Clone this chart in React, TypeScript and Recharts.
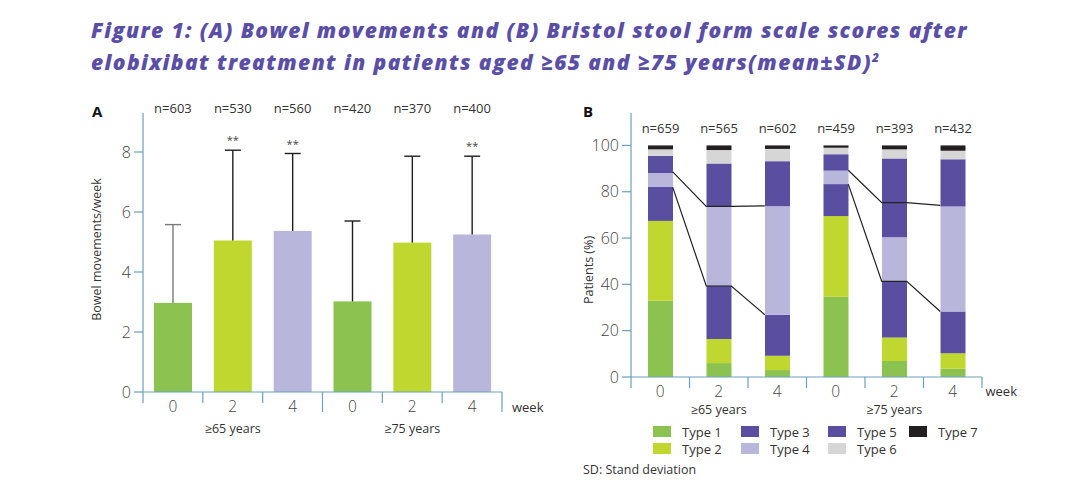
import React from 'react'
import { ComposedChart, Bar, Line, XAxis, YAxis, LabelList, Legend } from 'recharts'

// ---- data -------------------------------------------------------------
const weeks = [0, 2, 4, 0, 2, 4]
const groupNames = ['≥65 years', '≥75 years']

// (A) bowel movements / week, mean ± SD
const nA = [603, 530, 560, 420, 370, 400]
const meanA = [2.97, 5.05, 5.37, 3.02, 4.98, 5.25]
const sdA = [2.61, 3.01, 2.58, 2.68, 2.88, 2.61]
const sigA = ['', '**', '**', '', '', '**']

// (B) Bristol stool form scale, % of patients
const nB = [659, 565, 602, 459, 393, 432]
const type1 = [32.9, 6.0, 3.0, 34.7, 6.9, 3.6]
const type2 = [34.5, 10.4, 6.2, 34.8, 10.2, 6.7]
const type3 = [14.8, 23.1, 17.7, 13.8, 24.1, 18.0]
const type4 = [5.9, 34.2, 46.8, 5.8, 19.1, 45.3]
const type5 = [7.4, 18.5, 19.5, 7.1, 34.1, 20.4]
const type6 = [2.8, 5.8, 5.3, 2.8, 3.9, 3.7]
const type7 = [1.7, 2.0, 1.5, 1.0, 1.7, 2.3]
const upperLink = [88.6, 73.7, 73.9, 89.3, 75.3, 74.1]
const lowerLink = [81.9, 39.3, 26.9, 83.3, 41.3, 28.3]

const ticksA = [0, 2, 4, 6, 8]
const ticksB = [0, 20, 40, 60, 80, 100]

// ---- styles -----------------------------------------------------------
const AXIS = '#6b9fbe'
const TXT = '#333'
const FONT = '"Open Sans", Lato, sans-serif'
const weekFill: Record<number, string> = { 0: '#8cc24f', 2: '#c0d730', 4: '#b9b6dc' }
const typeColors = ['#8cc24f', '#c0d730', '#5a4ea1', '#b9b6dc', '#5a4ea1', '#d6d6d6', '#231f20']

// layout of panel B (needed to put link lines on bar edges)
const BAR_B = 25
const PLOT_W_B = 351

const dataA = weeks.map((w, i) => ({
  idx: i, week: w, n: nA[i], mean: meanA[i], sd: sdA[i], sig: sigA[i],
}))

const typeSeries = [type1, type2, type3, type4, type5, type6, type7]
const dataB = weeks.map((w, i) => {
  const row: Record<string, number> = { idx: i, week: w, n: nB[i] }
  typeSeries.forEach((s, t) => { row['t' + (t + 1)] = s[i] })
  return row
})

const edge = BAR_B / 2 / (PLOT_W_B / 6)
function linkPoints(vals: number[], start: number) {
  const pts: { x: number; v: number }[] = []
  for (let j = 0; j < 3; j++) {
    const i = start + j
    if (j > 0) pts.push({ x: i - edge, v: vals[i] })
    if (j < 2) pts.push({ x: i + edge, v: vals[i] })
  }
  return pts
}
const links = [
  linkPoints(upperLink, 0), linkPoints(lowerLink, 0),
  linkPoints(upperLink, 3), linkPoints(lowerLink, 3),
]

// ---- pieces -----------------------------------------------------------
type TickCfg = { band: number; shortLen: number; longLen: number; labelDy: number; groupDy: number; weekDx: number }

function WeekTick(props: any) {
  const { x, y, payload, cfg } = props
  const c = cfg as TickCfg
  const i = payload.index ?? payload.value
  const half = payload.offset || c.band / 2
  const left = x - half
  const right = x + half
  const sep = i === 3 ? c.longLen : c.shortLen
  return (
    <g>
      <line x1={left} x2={left} y1={y} y2={y + sep} stroke={AXIS} strokeWidth={1.2} />
      {i === 5 && <line x1={right} x2={right} y1={y} y2={y + c.longLen} stroke={AXIS} strokeWidth={1.2} />}
      <text x={x} y={y + c.labelDy} dy="0.35em" textAnchor="middle" fontSize={15.5} fill="#444" fontWeight={300}>
        {weeks[i]}
      </text>
      {(i === 1 || i === 4) && (
        <text x={x} y={y + c.groupDy} dy="0.35em" textAnchor="middle" fontSize={12.5} fill={TXT}>
          {groupNames[i === 1 ? 0 : 1]}
        </text>
      )}
      {i === 5 && (
        <text x={right + c.weekDx} y={y + c.labelDy} dy="0.35em" fontSize={13} fill={TXT}>week</text>
      )}
    </g>
  )
}

function MeanSdBar(props: any) {
  const { x, y, width, height, payload } = props
  const k = height / payload.mean
  const top = y - payload.sd * k
  const cx = x + width / 2
  const col = payload.idx === 0 ? '#7a7a7a' : '#1e1e1e'
  return (
    <g>
      <rect x={x} y={y} width={width} height={height} fill={weekFill[payload.week]} />
      <line x1={cx} x2={cx} y1={y} y2={top} stroke={col} strokeWidth={1.4} />
      <line x1={cx - 8} x2={cx + 8} y1={top} y2={top} stroke={col} strokeWidth={1.4} />
      {payload.sig && (
        <text x={cx} y={top - 6} textAnchor="middle" fontSize={11} fill="#444">{payload.sig}</text>
      )}
    </g>
  )
}

function yLabel(text: string, dx: number, dy: number) {
  return (p: any) => {
    const vb = p.viewBox
    const cx = vb.x + dx
    const cy = vb.y + vb.height / 2 + dy
    return (
      <text transform={`translate(${cx},${cy}) rotate(-90)`} textAnchor="middle" dy="0.35em" fontSize={12.5} fill={TXT}>
        {text}
      </text>
    )
  }
}

function TypeLegend({ payload }: any) {
  const items = (payload || []).filter((p: any) => p.type !== 'none')
  return (
    <div style={{
      display: 'grid', gridTemplateColumns: '88px 87px 81px 80px', gridTemplateRows: 'repeat(2, 17.3px)',
      gridAutoFlow: 'column', paddingLeft: 83, fontSize: 13, color: TXT,
    }}>
      {items.map((p: any) => (
        <div key={p.value} style={{ display: 'flex', alignItems: 'center' }}>
          <span style={{ width: 18, height: 11, background: p.color, marginRight: 11, display: 'inline-block' }} />
          <span>{p.value}</span>
        </div>
      ))}
    </div>
  )
}

const cfgA: TickCfg = { band: 59.8, shortLen: 11, longLen: 20, labelDy: 15, groupDy: 37, weekDx: 10 }
const cfgB: TickCfg = { band: 58.5, shortLen: 11, longLen: 11, labelDy: 14.5, groupDy: 32.5, weekDx: 3.5 }

export default function App() {
  return (
    <div style={{ position: 'absolute', left: 0, top: 0, width: 1080, height: 504, background: '#fff', fontFamily: FONT }}>
      <div style={{
        position: 'absolute', left: 91, top: 17, fontFamily: '"Open Sans", sans-serif', fontWeight: 800, fontStyle: 'italic',
        fontSize: 21, lineHeight: '27px', letterSpacing: 1.4, color: '#5a4ea6', whiteSpace: 'nowrap',
      }}>
        Figure 1: (A) Bowel movements and (B) Bristol stool form scale scores after<br />
        elobixibat treatment in patients aged ≥65 and ≥75 years(mean±SD)<sup style={{ fontSize: 12 }}>2</sup>
      </div>

      <div style={{ position: 'absolute', left: 92, top: 101, fontWeight: 700, fontSize: 15, color: '#111' }}>A</div>
      <div style={{ position: 'absolute', left: 583, top: 101, fontWeight: 700, fontSize: 15, color: '#111' }}>B</div>

      {/* (A) */}
      <div style={{ position: 'absolute', left: 60, top: 95 }}>
        <ComposedChart width={490} height={342} data={dataA} margin={{ top: 0, right: 48, bottom: 0, left: 33 }}>
          <XAxis xAxisId="n" orientation="top" dataKey="idx" type="category" height={18} axisLine={false} tickLine={false}
            tickSize={0} tickMargin={0} interval={0} tick={{ fontSize: 13, fill: TXT }}
            tickFormatter={(v: number) => `n=${nA[v]}`} />
          <XAxis xAxisId="cat" dataKey="idx" type="category" height={45} interval={0}
            axisLine={{ stroke: AXIS, strokeWidth: 1.2 }} tickLine={false} tickSize={0} tickMargin={0}
            tick={(p: any) => <WeekTick {...p} cfg={cfgA} />} />
          <YAxis width={50} domain={[0, 9.3]} ticks={ticksA} interval={0} allowDataOverflow
            axisLine={{ stroke: AXIS, strokeWidth: 1.2 }} tickLine={{ stroke: AXIS, strokeWidth: 1.2 }}
            tickSize={9} tickMargin={3} tick={{ fontSize: 16, fill: '#444', fontWeight: 300 }}
            label={{ content: yLabel('Bowel movements/week', 4, -3) }} />
          <Bar xAxisId="cat" dataKey="mean" barSize={38} shape={<MeanSdBar />} isAnimationActive={false} />
        </ComposedChart>
      </div>

      {/* (B) */}
      <div style={{ position: 'absolute', left: 570, top: 100 }}>
        <ComposedChart width={460} height={359} data={dataB} margin={{ top: 13, right: 48, bottom: 0, left: 0 }}>
          <XAxis xAxisId="cat" dataKey="idx" type="category" height={46} interval={0}
            axisLine={{ stroke: AXIS, strokeWidth: 1.2 }} tickLine={false} tickSize={0} tickMargin={0}
            tick={(p: any) => <WeekTick {...p} cfg={cfgB} />} />
          <XAxis xAxisId="num" type="number" dataKey="x" domain={[-0.5, 5.5]} hide allowDataOverflow />
          <YAxis width={61} domain={[0, 114]} ticks={ticksB} interval={0} allowDataOverflow
            axisLine={{ stroke: AXIS, strokeWidth: 1.2 }} tickLine={{ stroke: AXIS, strokeWidth: 1.2 }}
            tickSize={9} tickMargin={3} tick={{ fontSize: 16, fill: '#444', fontWeight: 300 }}
            label={{ content: yLabel('Patients (%)', 19, 25) }} />
          {typeSeries.map((_, t) => (
            <Bar key={t} xAxisId="cat" dataKey={'t' + (t + 1)} name={'Type ' + (t + 1)} stackId="s"
              fill={typeColors[t]} barSize={BAR_B} isAnimationActive={false}>
              {t === 6 && (
                <LabelList dataKey="n" position="top" offset={12} fontSize={13} fill={TXT}
                  formatter={(v: any) => `n=${v}`} />
              )}
            </Bar>
          ))}
          {links.map((pts, j) => (
            <Line key={j} xAxisId="num" data={pts} dataKey="v" stroke="#222" strokeWidth={1.2} dot={false}
              legendType="none" isAnimationActive={false} />
          ))}
          <Legend verticalAlign="bottom" height={36} content={<TypeLegend />} wrapperStyle={{ left: 0, width: 460 }} />
        </ComposedChart>
      </div>

      <div style={{ position: 'absolute', left: 583, top: 461, fontSize: 12.5, color: TXT }}>SD: Stand deviation</div>
    </div>
  )
}
